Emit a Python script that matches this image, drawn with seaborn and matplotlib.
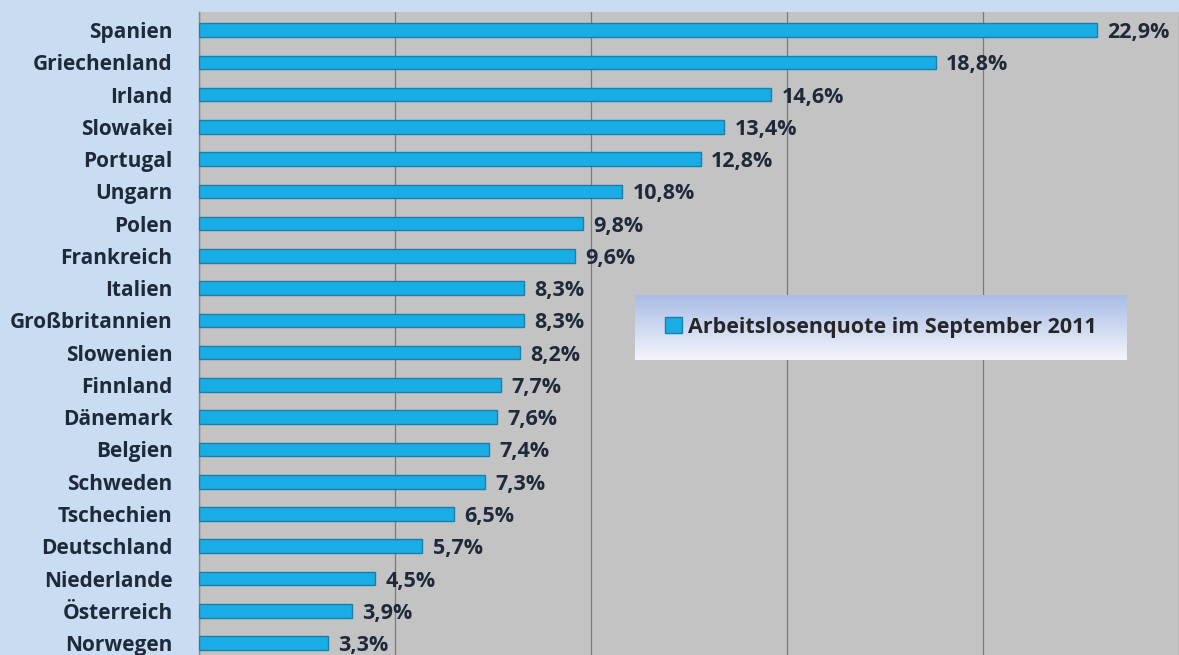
import numpy as np
import pandas as pd
import matplotlib
matplotlib.use("Agg")
import matplotlib.pyplot as plt
import seaborn as sns

# Daten
laender = ["Spanien", "Griechenland", "Irland", "Slowakei", "Portugal", "Ungarn",
           "Polen", "Frankreich", "Italien", "Großbritannien", "Slowenien", "Finnland",
           "Dänemark", "Belgien", "Schweden", "Tschechien", "Deutschland",
           "Niederlande", "Österreich", "Norwegen"]
quote = [22.9, 18.8, 14.6, 13.4, 12.8, 10.8, 9.8, 9.6, 8.3, 8.3, 8.2, 7.7,
         7.6, 7.4, 7.3, 6.5, 5.7, 4.5, 3.9, 3.3]
serie = "Arbeitslosenquote im September 2011"

df = pd.DataFrame({"Land": laender, "Quote": quote})

sns.set_style("white")
plt.rcParams['font.family'] = ['Open Sans', 'DejaVu Sans']

fig = plt.figure(figsize=(11.79, 6.55), dpi=100, facecolor="#c9dcf1")
ax = fig.add_axes([199 / 1179, 0, 980 / 1179, 643 / 655])
ax.set_facecolor("#c3c3c3")

sns.barplot(data=df, x="Quote", y="Land", orient="h", color="#19ade6",
            edgecolor="#1c7fa8", linewidth=1.0, width=0.42, saturation=1,
            label=serie, ax=ax, zorder=3)

ax.set_xlim(0, 25)
ax.set_ylim(19.37, -0.56)
ax.set_xticks([0, 5, 10, 15, 20, 25])
ax.tick_params(axis="x", length=0, labelbottom=False)
ax.grid(axis="x", color="#7a7a7a", linewidth=0.9, zorder=0)
ax.set_axisbelow(True)

# kleine Striche zwischen den Kategorien
ax.set_yticks(np.arange(len(laender)) - 0.5, minor=True)
ax.tick_params(axis="y", which="minor", length=4, color="#8a8a8a", direction="out")
ax.tick_params(axis="y", which="major", length=0, pad=19)
for lab in ax.get_yticklabels():
    lab.set_fontweight("bold")
    lab.set_fontsize(15)
    lab.set_color("#1e2a3a")

ax.set_xlabel("")
ax.set_ylabel("")
for s in ["top", "right", "bottom"]:
    ax.spines[s].set_visible(False)
ax.spines["left"].set_color("#8a8a8a")
ax.spines["left"].set_linewidth(1.0)

# Werte an den Balken
for i, v in enumerate(quote):
    ax.text(v + 0.26, i, f"{v:.1f}%".replace(".", ","), va="center_baseline", ha="left",
            fontsize=15.5, fontweight="bold", color="#1e2a3a", zorder=5)

# Legende mit Verlauf
x0, x1, y0, y1 = 0.445, 0.947, 0.459, 0.56
grad = np.linspace(0, 1, 100).reshape(-1, 1)
cmap = matplotlib.colors.LinearSegmentedColormap.from_list("g", ["#f3f5fb", "#a9bde6"])
ax.imshow(grad, extent=[x0, x1, y0, y1], transform=ax.transAxes, cmap=cmap,
          aspect="auto", zorder=4, origin="lower")
ax.set_xlim(0, 25)
ax.set_ylim(19.37, -0.56)
leg = ax.legend(loc="center", bbox_to_anchor=((x0 + x1) / 2, (y0 + y1) / 2),
                frameon=False, prop={"weight": "bold", "size": 15.5},
                handlelength=0.75, handleheight=0.75, handletextpad=0.3)
leg.set_zorder(6)

plt.savefig("out.png", dpi=100, facecolor=fig.get_facecolor())
